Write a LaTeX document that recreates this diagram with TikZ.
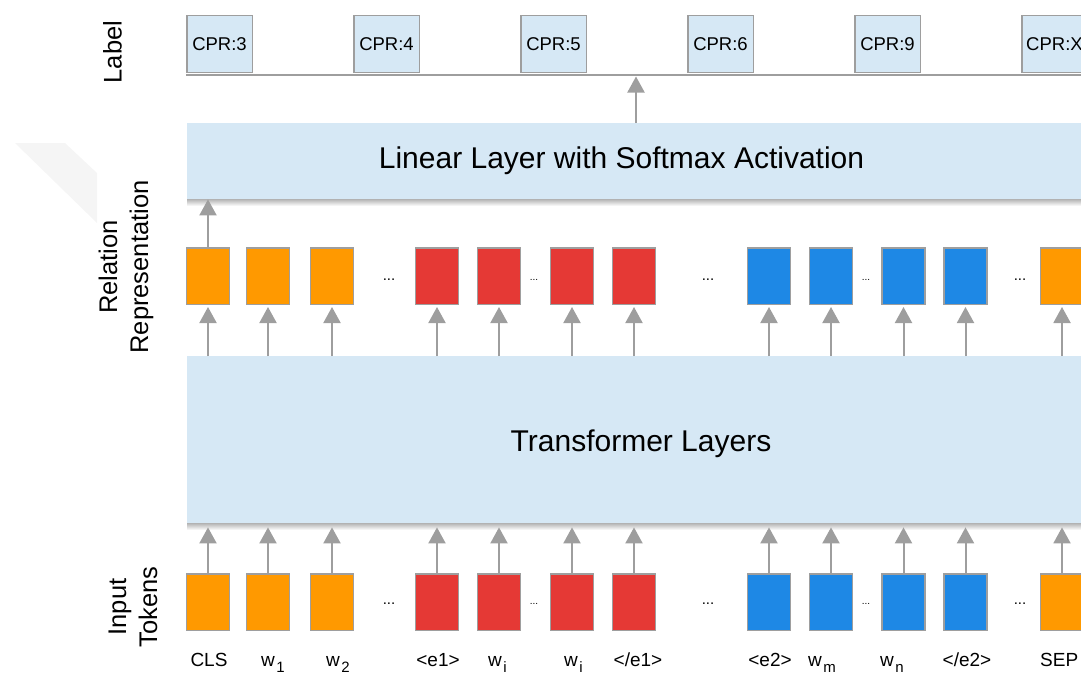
\documentclass[tikz,border=0pt]{standalone}
\usepackage{fontspec}
\setmainfont{Liberation Sans}
\usetikzlibrary{arrows.meta,calc}

\definecolor{layerblue}{RGB}{214,232,245}
\definecolor{edgegray}{RGB}{158,158,158}
\definecolor{tokorange}{RGB}{255,153,0}
\definecolor{tokred}{RGB}{229,57,53}
\definecolor{tokblue}{RGB}{30,136,229}

% lowered index after a word token
\newcommand\tokensub[1]{\hspace{1.5pt}\raisebox{-6.5pt}{\fontsize{15}{15}\selectfont #1}}

\begin{document}
\begin{tikzpicture}[x=1pt,y=-1pt,
  tokbox/.style={draw=edgegray, line width=1.5pt, minimum width=43pt,
    minimum height=56.5pt, inner sep=0pt},
  lblbox/.style={draw=edgegray, line width=1.5pt, fill=layerblue,
    minimum width=65.5pt, minimum height=56.5pt, inner sep=0pt,
    font=\fontsize{18.5}{22}\selectfont},
  layer/.style={fill=layerblue, inner sep=0pt, anchor=north west},
  layertext/.style={font=\fontsize{30}{35}\selectfont, anchor=base},
  rowname/.style={rotate=90, align=center, font=\fontsize{25.5}{31}\selectfont},
  toktext/.style={font=\fontsize{19}{22}\selectfont, anchor=base, inner sep=0pt},
  bigdots/.style={font=\fontsize{15}{15}\selectfont, inner sep=0pt},
  smalldots/.style={font=\fontsize{10}{10}\selectfont, inner sep=0pt},
  arr/.style={draw=edgegray, line width=2pt, -{Triangle[width=17pt,length=16pt]}},
]
\useasboundingbox (0,0) rectangle (1081,677);
\clip (0,0) rectangle (1081,677);

% faint mark at the left margin
\fill[black!4] (15,143) -- (65,143) -- (97,173) -- (97,223) -- cycle;

% row names
\node[rowname] (nlabel) at (112.5,52) {Label};
\node[rowname] (nrel) at (126,267) {Relation\\Representation};
\node[rowname] (ninput) at (133,607) {Input\\Tokens};

% label row: baseline and class boxes
\coordinate (lineL) at (186,74.5);
\coordinate (lineR) at (1095,74.5);
\coordinate (hit) at (636,74.5);
\draw[edgegray, line width=2pt] (lineL) -- (lineR);
\foreach \n/\x/\t in {1/219.5/CPR:3, 2/386.5/CPR:4, 3/553.5/CPR:5,
                      4/720.5/CPR:6, 5/887.5/CPR:9, 6/1054.5/CPR:X}
  \node[lblbox] (c\n) at (\x,44) {\t};

% linear layer
\shade[top color=black!30, bottom color=white] (187,199) rectangle (1100,206);
\node[layer, minimum width=913pt, minimum height=76pt] (lin) at (187,123) {};
\node[layertext] (lintxt) at (621.5,168) {Linear Layer with Softmax Activation};

% transformer layers
\shade[top color=black!30, bottom color=white] (187,523) rectangle (1100,530);
\node[layer, minimum width=913pt, minimum height=167pt] (tr) at (187,356) {};
\node[layertext] (trtxt) at (641,451) {Transformer Layers};

% token columns: relation boxes (r) and input boxes (t)
\foreach \i/\x/\c in {1/208/tokorange, 2/268/tokorange, 3/332/tokorange,
                      4/437/tokred, 5/499/tokred, 6/572/tokred, 7/634/tokred,
                      8/769/tokblue, 9/831/tokblue, 10/903.5/tokblue, 11/965.5/tokblue,
                      12/1062/tokorange} {
  \node[tokbox, fill=\c] (r\i) at (\x,276) {};
  \node[tokbox, fill=\c] (t\i) at (\x,602) {};
  \draw[arr, shorten >=4pt] (t\i.north) -- (t\i.north |- tr.south);
  \draw[arr, shorten >=2pt] (r\i.south |- tr.north) -- (r\i.south);
}

% output arrows
\draw[arr] (r1.north) -- (r1.north |- lin.south);
\draw[arr, shorten >=2pt] (lin.north -| hit) -- (hit);

% ellipses between columns
\foreach \y/\k in {280/r, 604/t} {
  \node[bigdots] (\k d1) at (389,\y) {...};
  \node[smalldots] (\k d2) at (534,\y) {...};
  \node[bigdots] (\k d3) at (708,\y) {...};
  \node[smalldots] (\k d4) at (866,\y) {...};
  \node[bigdots] (\k d5) at (1020,\y) {...};
}

% token names
\node[toktext] (w1) at (209,666) {CLS};
\node[toktext, anchor=base west] (w2) at (261,666) {w\tokensub{1}};
\node[toktext, anchor=base west] (w3) at (326,666) {w\tokensub{2}};
\node[toktext] (w4) at (438,666) {<e1>};
\node[toktext, anchor=base west] (w5) at (488,666) {w\tokensub{i}};
\node[toktext, anchor=base west] (w6) at (564,666) {w\tokensub{i}};
\node[toktext] (w7) at (638,666) {</e1>};
\node[toktext] (w8) at (770,666) {<e2>};
\node[toktext, anchor=base west] (w9) at (808,666) {w\tokensub{m}};
\node[toktext, anchor=base west] (w10) at (880,666) {w\tokensub{n}};
\node[toktext] (w11) at (967,666) {</e2>};
\node[toktext, anchor=base west] (w12) at (1040,666) {SEP};
\end{tikzpicture}
\end{document}
